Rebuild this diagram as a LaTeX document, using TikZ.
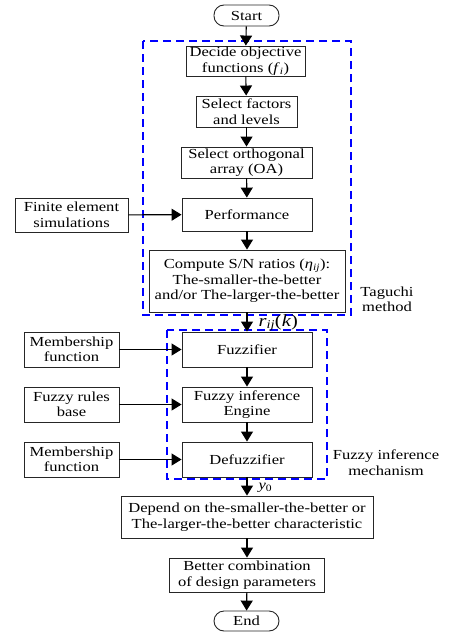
\documentclass[tikz,border=0pt]{standalone}
\usepackage{fontspec}
\setmainfont{Liberation Serif}[FakeStretch=1.2]
\usetikzlibrary{arrows.meta}
\tikzset{
  box/.style={draw=black!85, line width=0.9pt, fill=white, align=center, inner sep=0pt,
    font=\fontsize{13.8}{15.5}\selectfont},
  term/.style={box, rounded corners=10pt},
  arr/.style={line width=1.1pt, -{Triangle[length=10pt,width=12pt]}},
  blu/.style={draw=blue, line width=1.3pt, dash pattern=on 8pt off 5pt},
  lbl/.style={align=center, inner sep=0pt, font=\fontsize{13.8}{15.5}\selectfont}
}
\begin{document}
\begin{tikzpicture}[x=1pt,y=-1pt]
\useasboundingbox (0,0) rectangle (452,632);
% dashed groups
\draw[blu] (143,41) rectangle (351,315);
\draw[blu] (167,330) rectangle (327,479);
% main column
\node[term, minimum width=65pt, minimum height=21pt] (start) at (246.5,15.5) {Start};
\node[box, minimum width=119pt, minimum height=30pt] (decide) at (245.5,61) {Decide objective\\functions (\textit{f}\textsubscript{\textit{i}})};
\node[box, minimum width=101pt, minimum height=31pt] (factors) at (246.5,111.5) {Select factors\\and levels};
\node[box, minimum width=131pt, minimum height=31pt] (oa) at (246.5,162.5) {Select orthogonal\\array (OA)};
\node[box, minimum width=130pt, minimum height=33pt] (perf) at (247,214.5) {Performance};
\node[box, minimum width=113pt, minimum height=34pt] (fem) at (71.5,215) {Finite element\\simulations};
\node[box, minimum width=196pt, minimum height=62pt] (sn) at (247,281) {Compute S/N ratios (\textit{η}\textsubscript{\textit{ij}}):\\The-smaller-the-better\\and/or The-larger-the-better};
\node[lbl] (tag) at (387,299.5) {Taguchi\\method};
\node[box, minimum width=130pt, minimum height=35pt] (fuzz) at (247,349.5) {Fuzzifier};
\node[box, minimum width=95pt, minimum height=35pt] (mem1) at (71.5,349.5) {Membership\\function};
\node[box, minimum width=130pt, minimum height=35pt] (fie) at (247,404.5) {Fuzzy inference\\Engine};
\node[box, minimum width=95pt, minimum height=35pt] (rules) at (71.5,404.5) {Fuzzy rules\\base};
\node[box, minimum width=130pt, minimum height=35pt] (defuzz) at (247,459.5) {Defuzzifier};
\node[box, minimum width=95pt, minimum height=35pt] (mem2) at (71.5,459.5) {Membership\\function};
\node[lbl] (fim) at (386,462.5) {Fuzzy inference\\mechanism};
\node[box, minimum width=252pt, minimum height=42pt] (depend) at (247,517) {Depend on the-smaller-the-better or\\The-larger-the-better characteristic};
\node[box, minimum width=155pt, minimum height=34pt] (better) at (247,575) {Better combination\\of design parameters};
\node[term, minimum width=65pt, minimum height=20pt] (end) at (246.5,621) {End};
% connectors
\draw[arr] (start) -- (decide);
\draw[arr] (decide) -- (factors);
\draw[arr] (factors) -- (oa);
\draw[arr] (oa) -- (perf);
\draw[arr] (fem) -- (perf);
\draw[arr] (perf) -- (sn);
\draw[arr] (sn) -- node[right, xshift=11pt, yshift=-1pt, font=\fontsize{17}{17}\selectfont, inner sep=0pt] (rlab) {\textit{r}\textsubscript{\textit{ij}}(\textit{k})} (fuzz);
\draw[arr] (mem1) -- (fuzz);
\draw[arr] (fuzz) -- (fie);
\draw[arr] (rules) -- (fie);
\draw[arr] (fie) -- (defuzz);
\draw[arr] (mem2) -- (defuzz);
\draw[arr] (defuzz) -- node[right, xshift=11pt, yshift=-1pt, font=\fontsize{13.8}{13.8}\selectfont, inner sep=0pt] (ylab) {\textit{y}\textsubscript{0}} (depend);
\draw[arr] (depend) -- (better);
\draw[arr] (better) -- (end);
\end{tikzpicture}
\end{document}
